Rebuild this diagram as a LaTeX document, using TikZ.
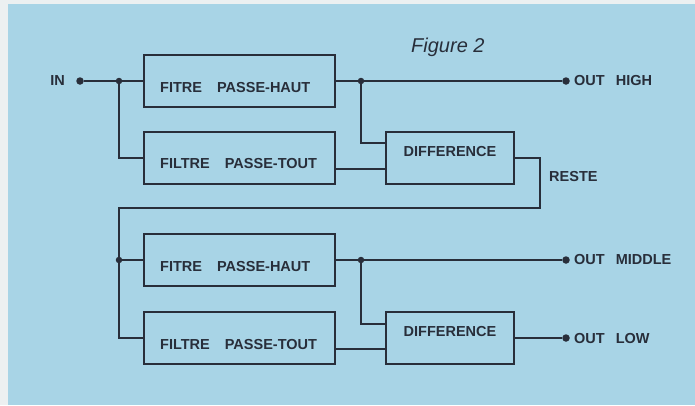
\documentclass[tikz,border=0pt]{standalone}
\usepackage{fontspec}
\setmainfont{Liberation Sans}
\definecolor{bgblue}{RGB}{168,212,230}
\definecolor{ink}{RGB}{40,46,58}
\definecolor{paper}{RGB}{236,240,241}
\begin{document}
\begin{tikzpicture}[x=1pt,y=-1pt,
  wire/.style={draw=ink,line width=2pt},
  box/.style={draw=ink,line width=2pt,minimum height=52pt,inner sep=0pt},
  filt/.style={box,minimum width=191pt},
  diffbox/.style={box,minimum width=128pt},
  dot/.style={circle,fill=ink,inner sep=0pt,minimum size=7.5pt},
  jdot/.style={circle,fill=ink,inner sep=0pt,minimum size=6.5pt},
  lbl/.style={font=\fontsize{14.5}{16}\bfseries\selectfont,text=ink,inner sep=0pt}]
\useasboundingbox (0,0) rectangle (695,405);
\fill[paper] (0,0) rectangle (695,405);
\fill[bgblue] (8,4) rectangle (695,405);
\node[font=\fontsize{20}{22}\itshape\selectfont,text=ink,anchor=base west,inner sep=0pt] (fig) at (411,52) {Figure 2};
% stage 1
\node[filt] (hp1) at (239.5,81) {};
\node[lbl,anchor=west] (hp1t) at ([xshift=17pt,yshift=-6.5pt]hp1.west) {FITRE\hspace{15pt}PASSE-HAUT};
\node[filt] (at1) at (239.5,158) {};
\node[lbl,anchor=west] (at1t) at ([xshift=17pt,yshift=-6pt]at1.west) {FILTRE\hspace{15pt}PASSE-TOUT};
\node[diffbox] (d1) at (450,158) {};
\node[lbl] (d1t) at ([yshift=6pt]d1.center) {DIFFERENCE};
\node[dot] (in) at (80,81) {};
\node[lbl,anchor=east] (inl) at (65,81) {IN};
\coordinate (j1) at (119,81);
\node[jdot] at (j1) {};
\draw[wire] (in) -- (hp1.west);
\draw[wire] (j1) |- (at1.west);
\coordinate (j2) at (361,81);
\node[jdot] at (j2) {};
\node[dot] (oh) at (566,81) {};
\node[lbl,anchor=west] (ohl) at (574,81) {OUT\hspace{11pt}HIGH};
\draw[wire] (hp1.east) -- (oh);
\draw[wire] (j2) |- ([yshift=15pt]d1.west);
\draw[wire] ([yshift=-11pt]at1.east) -- ([yshift=-11pt]d1.west);
\coordinate (r1) at (540,208);
\coordinate (r2) at (119,208);
\node[lbl,anchor=west] (reste) at (549,177) {RESTE};
% stage 2
\node[filt] (hp2) at (239.5,260) {};
\node[lbl,anchor=west] (hp2t) at ([xshift=17pt,yshift=-6.5pt]hp2.west) {FITRE\hspace{15pt}PASSE-HAUT};
\node[filt] (at2) at (239.5,338) {};
\node[lbl,anchor=west] (at2t) at ([xshift=17pt,yshift=-6pt]at2.west) {FILTRE\hspace{15pt}PASSE-TOUT};
\node[diffbox] (d2) at (450,338) {};
\node[lbl] (d2t) at ([yshift=7pt]d2.center) {DIFFERENCE};
\draw[wire] (d1.east) -| (r1) -- (r2) |- (at2.west);
\coordinate (j3) at (119,260);
\node[jdot] at (j3) {};
\draw[wire] (j3) -- (hp2.west);
\coordinate (j4) at (361,260);
\node[jdot] at (j4) {};
\node[dot] (om) at (566,260) {};
\node[lbl,anchor=west] (oml) at (574,260) {OUT\hspace{11pt}MIDDLE};
\draw[wire] (hp2.east) -- (om);
\draw[wire] (j4) |- ([yshift=14pt]d2.west);
\draw[wire] ([yshift=-11pt]at2.east) -- ([yshift=-11pt]d2.west);
\node[dot] (ol) at (566,338) {};
\node[lbl,anchor=west] (oll) at (574,338) {OUT\hspace{11pt}LOW};
\draw[wire] (d2.east) -- (ol);
\end{tikzpicture}
\end{document}
